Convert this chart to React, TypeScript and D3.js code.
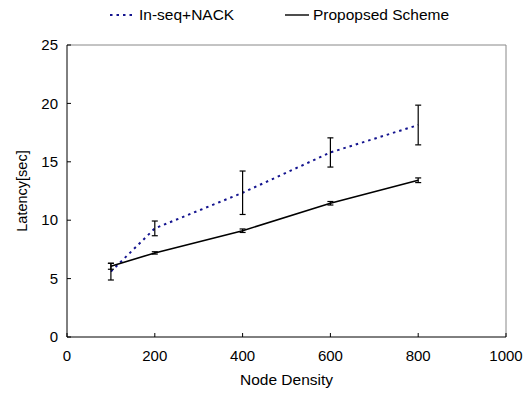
import * as d3 from 'd3';

const nodeDensity = [100, 200, 400, 600, 800];
const inSeqLatency = [5.6, 9.3, 12.35, 15.8, 18.15];
const inSeqError = [0.72, 0.63, 1.86, 1.25, 1.7];
const proposedLatency = [6.05, 7.2, 9.1, 11.45, 13.42];
const proposedError = [0.25, 0.1, 0.15, 0.15, 0.2];
const xTicks = [0, 200, 400, 600, 800, 1000];
const yTicks = [0, 5, 10, 15, 20, 25];

const W = 530;
const H = 395;
const margin = { top: 45, right: 24, bottom: 58, left: 67 };
const font = '"Liberation Sans", Arial, sans-serif';
const blue = '#14148f';

export default function App() {
  const x = d3.scaleLinear().domain([0, 1000]).range([margin.left, W - margin.right]);
  const y = d3.scaleLinear().domain([0, 25]).range([H - margin.bottom, margin.top]);
  const line = d3
    .line<number>()
    .x((_, i) => x(nodeDensity[i]))
    .y((d) => y(d));

  const series = [
    { name: 'In-seq+NACK', values: inSeqLatency, err: inSeqError, color: blue, dash: '2.5,4' },
    { name: 'Propopsed Scheme', values: proposedLatency, err: proposedError, color: '#000', dash: undefined },
  ];

  const x0 = x(0);
  const x1 = x(1000);
  const y0 = y(0);
  const y1 = y(25);

  return (
    <svg
      width={W}
      height={H}
      style={{ position: 'absolute', left: 0, top: 0, background: '#fff' }}
      fontFamily={font}
    >
      {/* frame */}
      <line x1={x0} x2={x1} y1={y1} y2={y1} stroke="#888" />
      <line x1={x1} x2={x1} y1={y1} y2={y0} stroke="#888" />
      <line x1={x0} x2={x0} y1={y1} y2={y0} stroke="#000" />
      <line x1={x0} x2={x1} y1={y0} y2={y0} stroke="#000" />

      {yTicks.map((t) => (
        <g key={'y' + t}>
          <line x1={x0} x2={x0 + 4} y1={y(t)} y2={y(t)} stroke="#000" />
          <text x={x0 - 9} y={y(t)} dy="0.35em" textAnchor="end" fontSize={15}>
            {t}
          </text>
        </g>
      ))}
      {xTicks.map((t) => (
        <g key={'x' + t}>
          <line x1={x(t)} x2={x(t)} y1={y0} y2={y0 - 4} stroke="#000" />
          <text x={x(t)} y={y0 + 24} textAnchor="middle" fontSize={15}>
            {t}
          </text>
        </g>
      ))}

      <text x={(x0 + x1) / 2} y={385} textAnchor="middle" fontSize={15.5}>
        Node Density
      </text>
      <text
        transform={`translate(27,${(y0 + y1) / 2}) rotate(-90)`}
        textAnchor="middle"
        fontSize={14.5}
      >
        Latency[sec]
      </text>

      {series.map((s) => (
        <g key={s.name}>
          <path
            d={line(s.values) ?? ''}
            fill="none"
            stroke={s.color}
            strokeWidth={s.dash ? 2 : 1.6}
            strokeDasharray={s.dash}
          />
          {s.values.map((v, i) => {
            const cx = x(nodeDensity[i]);
            const top = y(v + s.err[i]);
            const bot = y(v - s.err[i]);
            return (
              <g key={i} stroke="#000" strokeWidth={1.2}>
                <line x1={cx} x2={cx} y1={top} y2={bot} />
                <line x1={cx - 3} x2={cx + 3} y1={top} y2={top} />
                <line x1={cx - 3} x2={cx + 3} y1={bot} y2={bot} />
              </g>
            );
          })}
        </g>
      ))}

      {/* legend */}
      <g fontSize={15.5}>
        <line x1={110} x2={132} y1={15} y2={15} stroke={blue} strokeWidth={2} strokeDasharray="2.5,4" />
        <text x={139} y={20}>In-seq+NACK</text>
        <line x1={285} x2={309} y1={15} y2={15} stroke="#000" strokeWidth={1.4} />
        <text x={313} y={20}>Propopsed Scheme</text>
      </g>
    </svg>
  );
}
